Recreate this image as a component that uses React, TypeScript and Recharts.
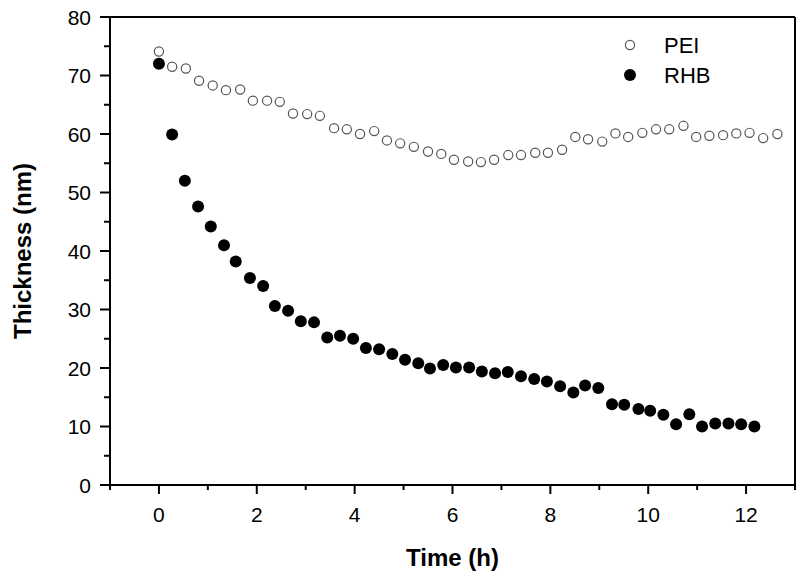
import React from 'react';
import { ScatterChart, Scatter, XAxis, YAxis, ReferenceLine, Legend } from 'recharts';

// time (h) and thickness (nm)
const peiTime = [
  0, 0.27, 0.55, 0.82, 1.1, 1.37, 1.66, 1.92, 2.21, 2.47, 2.74, 3.03, 3.29, 3.58, 3.84, 4.11,
  4.4, 4.66, 4.93, 5.21, 5.5, 5.77, 6.03, 6.32, 6.58, 6.85, 7.14, 7.4, 7.69, 7.95, 8.24, 8.51,
  8.77, 9.06, 9.33, 9.59, 9.88, 10.16, 10.43, 10.72, 10.98, 11.25, 11.53, 11.8, 12.07, 12.35, 12.64,
];
const peiThickness = [
  74.1, 71.5, 71.2, 69.1, 68.3, 67.5, 67.6, 65.7, 65.7, 65.5, 63.5, 63.4, 63.1, 61.0, 60.8, 60.0,
  60.5, 58.9, 58.4, 57.8, 57.0, 56.6, 55.6, 55.3, 55.2, 55.6, 56.4, 56.4, 56.8, 56.8, 57.3, 59.5,
  59.1, 58.7, 60.1, 59.5, 60.2, 60.8, 60.8, 61.4, 59.5, 59.7, 59.8, 60.1, 60.2, 59.3, 60.0,
];

const rhbTime = [
  0, 0.27, 0.53, 0.8, 1.06, 1.33, 1.57, 1.86, 2.13, 2.37, 2.64, 2.9, 3.17, 3.44, 3.7, 3.97,
  4.23, 4.5, 4.77, 5.03, 5.3, 5.54, 5.81, 6.07, 6.34, 6.6, 6.87, 7.13, 7.4, 7.67, 7.93, 8.2,
  8.47, 8.71, 8.98, 9.26, 9.51, 9.8, 10.04, 10.31, 10.57, 10.84, 11.1, 11.37, 11.64, 11.9, 12.17,
];
const rhbThickness = [
  72.0, 59.9, 52.0, 47.6, 44.2, 41.0, 38.2, 35.4, 34.0, 30.6, 29.8, 28.0, 27.8, 25.2, 25.5, 25.0,
  23.4, 23.2, 22.4, 21.4, 20.8, 19.9, 20.5, 20.1, 20.1, 19.4, 19.1, 19.3, 18.6, 18.1, 17.7, 16.9,
  15.8, 17.0, 16.6, 13.8, 13.7, 13.0, 12.7, 12.0, 10.4, 12.1, 10.0, 10.5, 10.5, 10.4, 10.0,
];

const xTicks = [-1, 0, 1, 2, 3, 4, 5, 6, 7, 8, 9, 10, 11, 12, 13];
const yTicks = [0, 5, 10, 15, 20, 25, 30, 35, 40, 45, 50, 55, 60, 65, 70, 75, 80];

const peiData = peiTime.map((t, i) => ({ x: t, y: peiThickness[i] }));
const rhbData = rhbTime.map((t, i) => ({ x: t, y: rhbThickness[i] }));

const FONT = '"Liberation Sans", Arial, sans-serif';

const XTick = ({ x, y, payload }: any) => {
  const v = payload.value;
  const major = v % 2 === 0;
  return (
    <g>
      <line x1={x} x2={x} y1={y} y2={y + (major ? 9 : 5)} stroke="#000" strokeWidth={2} />
      {major && (
        <text x={x} y={y + 37} textAnchor="middle" fontSize={21} fontFamily={FONT} fill="#000">
          {v}
        </text>
      )}
    </g>
  );
};

const YTick = ({ x, y, payload }: any) => {
  const v = payload.value;
  const major = v % 10 === 0;
  return (
    <g>
      <line x1={x} x2={x - (major ? 10 : 6)} y1={y} y2={y} stroke="#000" strokeWidth={2} />
      {major && (
        <text x={x - 19} y={y} dy="0.36em" textAnchor="end" fontSize={21} fontFamily={FONT} fill="#000">
          {v}
        </text>
      )}
    </g>
  );
};

const OpenDot = ({ cx, cy }: any) => (
  <circle cx={cx} cy={cy} r={4.6} fill="#fff" stroke="#555" strokeWidth={1.2} />
);
const FilledDot = ({ cx, cy }: any) => <circle cx={cx} cy={cy} r={6} fill="#000" />;

const renderLegend = () => (
  <svg width={140} height={64}>
    <circle cx={10} cy={15} r={4.6} fill="#fff" stroke="#555" strokeWidth={1.2} />
    <text x={44} y={15} dy="0.36em" fontSize={22} fontFamily={FONT} fill="#000">PEI</text>
    <circle cx={10} cy={45} r={6} fill="#000" />
    <text x={44} y={45} dy="0.36em" fontSize={22} fontFamily={FONT} fill="#000">RHB</text>
  </svg>
);

export default function App() {
  return (
    <div style={{ position: 'absolute', left: 0, top: 0, width: 800, height: 578, background: '#fff' }}>
      <ScatterChart width={800} height={578} margin={{ top: 17, right: 5, left: 0, bottom: 0 }}>
        <XAxis
          type="number"
          dataKey="x"
          domain={[-1, 13]}
          ticks={xTicks}
          interval={0}
          height={93}
          tickSize={0}
          tickMargin={0}
          axisLine={{ stroke: '#000', strokeWidth: 2 }}
          tick={(p: any) => <XTick {...p} />}
          label={({ viewBox }: any) => (
            <text
              x={viewBox.x + viewBox.width / 2}
              y={viewBox.y + 81}
              textAnchor="middle"
              fontSize={24}
              fontWeight="bold"
              fontFamily={FONT}
              fill="#000"
            >
              Time (h)
            </text>
          )}
        />
        <YAxis
          type="number"
          dataKey="y"
          domain={[0, 80]}
          ticks={yTicks}
          interval={0}
          width={110}
          tickSize={0}
          tickMargin={0}
          axisLine={{ stroke: '#000', strokeWidth: 2 }}
          tick={(p: any) => <YTick {...p} />}
          label={({ viewBox }: any) => {
            const cx = viewBox.x + 22;
            const cy = viewBox.y + viewBox.height / 2;
            return (
              <text
                x={cx}
                y={cy}
                transform={`rotate(-90, ${cx}, ${cy})`}
                textAnchor="middle"
                dy="0.36em"
                fontSize={24}
                fontWeight="bold"
                fontFamily={FONT}
                fill="#000"
              >
                Thickness (nm)
              </text>
            );
          }}
        />
        <ReferenceLine y={80} stroke="#000" strokeWidth={2} />
        <ReferenceLine x={13} stroke="#000" strokeWidth={2} />
        <Legend
          layout="vertical"
          align="center"
          verticalAlign="middle"
          wrapperStyle={{ top: 30, left: 620, width: 140 }}
          content={renderLegend}
        />
        <Scatter name="PEI" data={peiData} shape={OpenDot} isAnimationActive={false} />
        <Scatter name="RHB" data={rhbData} shape={FilledDot} isAnimationActive={false} />
      </ScatterChart>
    </div>
  );
}
